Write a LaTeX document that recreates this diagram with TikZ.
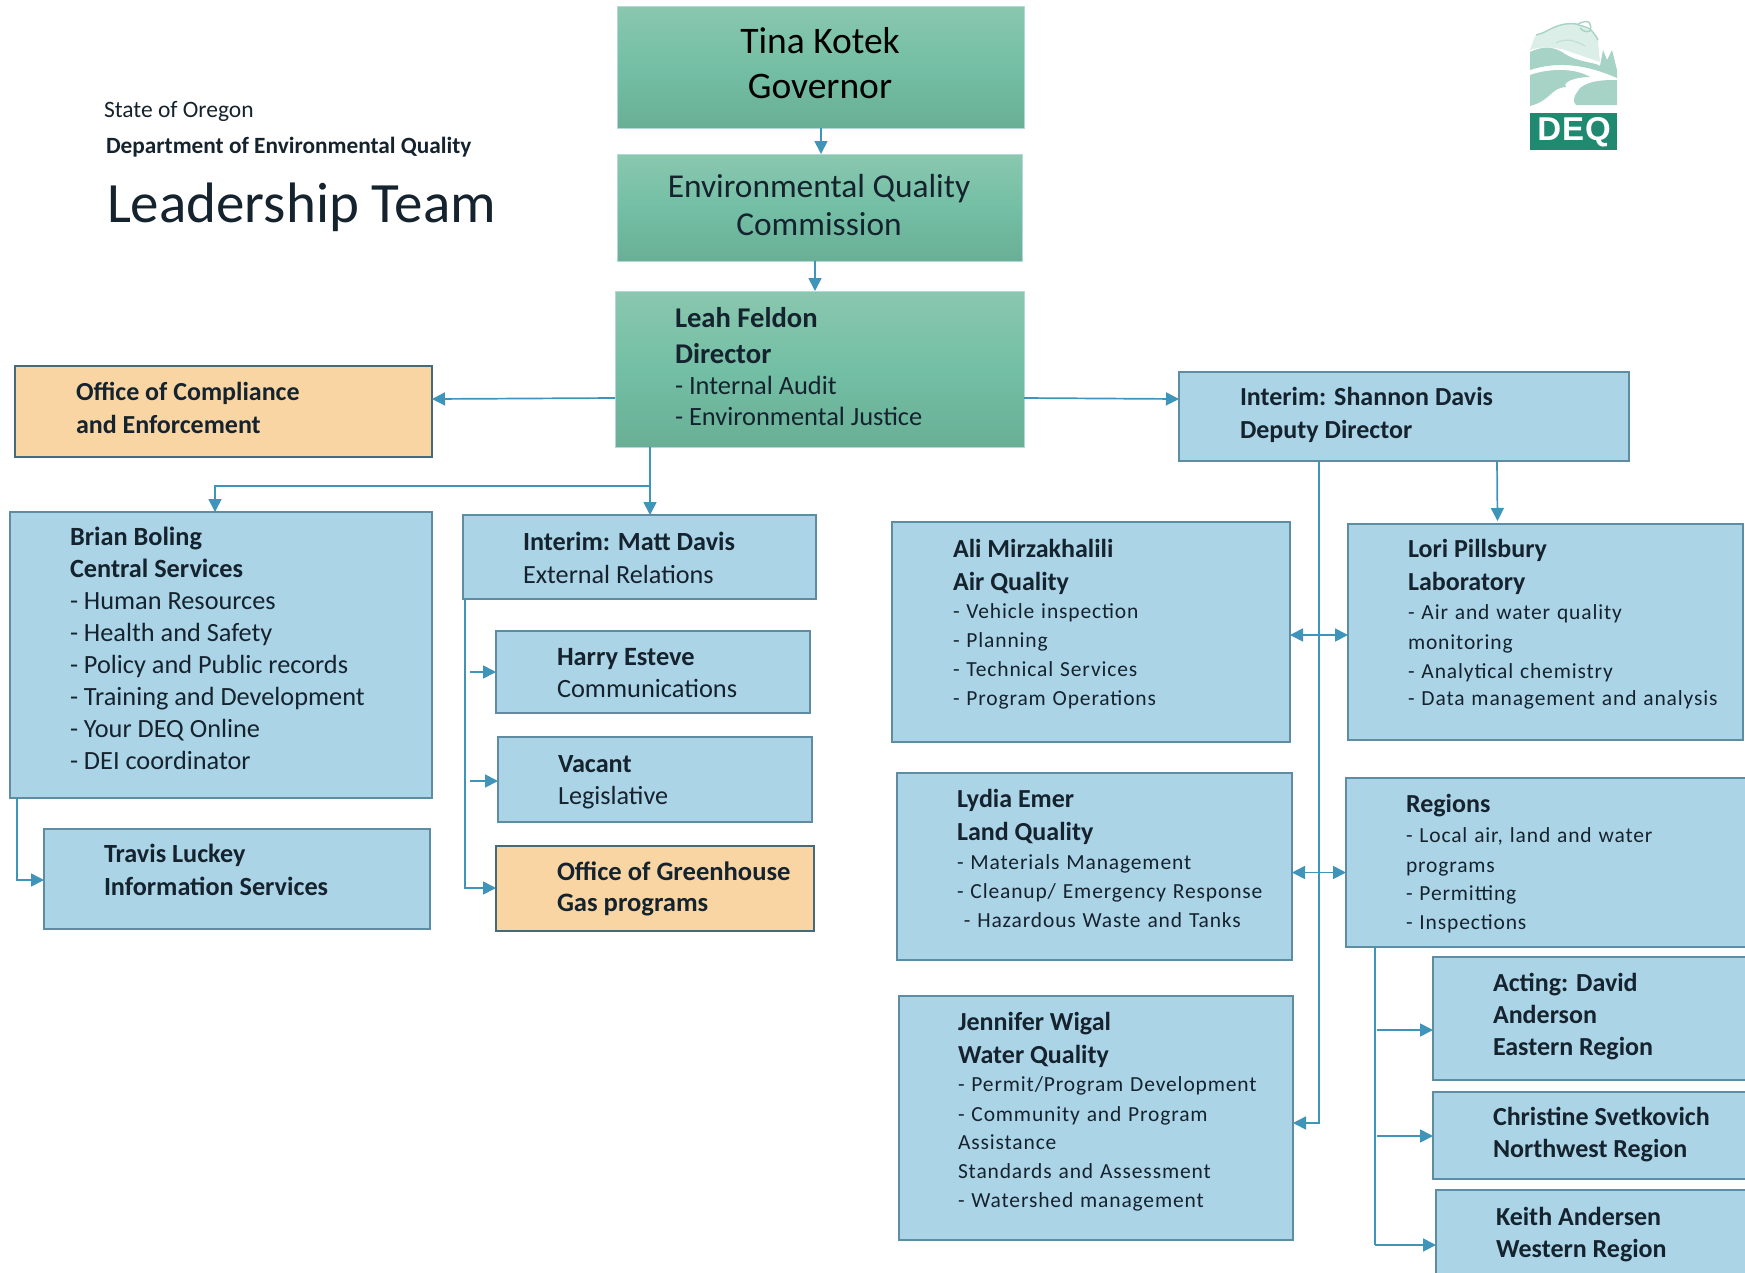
\documentclass[tikz,border=0pt]{standalone}
\usepackage{fontspec}
\setmainfont{Carlito}
\newfontfamily\widef[LetterSpace=4.0,WordSpace=1.2]{Carlito}
\newfontfamily\logof[LetterSpace=3.0]{Liberation Sans}
\usetikzlibrary{arrows.meta,calc}
\definecolor{boxblue}{HTML}{ABD4E7}
\definecolor{boxline}{HTML}{5E8DA3}
\definecolor{wire}{HTML}{3F94B9}
\definecolor{orangefill}{HTML}{F8D5A3}
\definecolor{ink}{HTML}{15232E}
\definecolor{logoteal}{HTML}{A6D3C6}
\definecolor{logopale}{HTML}{DCEEE8}
\definecolor{logogreen}{HTML}{1F8A70}
\definecolor{green1}{HTML}{8AC7AF}
\definecolor{green2}{HTML}{73BFA5}
\definecolor{green3}{HTML}{69AF96}
\tikzset{
  bluebox/.style={draw=boxline,line width=1.2pt,fill=boxblue,inner sep=0pt,outer sep=0pt},
  orangebox/.style={draw=boxline!75!black,line width=1.2pt,fill=orangefill,inner sep=0pt,outer sep=0pt},
  greenbox/.style={draw=white!70!teal,line width=.6pt,top color=green1,bottom color=green3,middle color=green2,inner sep=0pt,outer sep=0pt},
  wirel/.style={draw=wire,line width=1.7pt,-{Triangle[length=13pt,width=13pt]}},
  wiren/.style={draw=wire,line width=1.7pt},
  wireb/.style={draw=wire,line width=1.7pt,{Triangle[length=13pt,width=13pt]}-{Triangle[length=13pt,width=13pt]}},
  txt/.style={anchor=north west,inner sep=0pt,outer sep=0pt,align=left,text=ink},
  ctr/.style={anchor=center,inner sep=0pt,outer sep=0pt,align=center}
}
% box: style, name, x1, y1, x2, y2
\newcommand{\bx}[6]{\node[#1,anchor=north west,minimum width=#5pt-#3pt,minimum height=#6pt-#4pt] (#2) at (#3,#4) {};}
% text block: name, x, first baseline, size, skip, content
\newcommand{\tb}[6]{\node[txt,font=\fontsize{#4}{#5}\selectfont] (#1) at (#2,#3-#4+0.3) {\rule{0pt}{#4pt}#6};}
\newcommand{\tw}[6]{\node[txt,font=\fontsize{#4}{#5}\widef] (#1) at (#2,#3-#4) {\rule{0pt}{#4pt}#6};}
\newcommand{\B}[1]{{\bfseries #1}}
\begin{document}
\begin{tikzpicture}[x=1pt,y=-1pt]
\useasboundingbox (0,0) rectangle (1745,1272);
\clip (0,0) rectangle (1745,1272);
\fill[white] (0,0) rectangle (1745,1272);
% boxes
\bx{greenbox}{gov}{617}{6}{1024}{128}
\bx{greenbox}{eqc}{617}{154}{1022}{261}
\bx{greenbox}{dir}{615}{291}{1024}{447}
\bx{orangebox}{oce}{15}{366}{432}{457}
\bx{bluebox}{dep}{1179}{372}{1629}{461}
\bx{bluebox}{cs}{10}{512}{432}{798}
\bx{bluebox}{er}{463}{515}{816}{599}
\bx{bluebox}{comm}{496}{631}{810}{713}
\bx{bluebox}{leg}{498}{737}{812}{822}
\bx{orangebox}{ghg}{496}{846}{814}{931}
\bx{bluebox}{is}{44}{829}{430}{929}
\bx{bluebox}{air}{892}{522}{1290}{742}
\bx{bluebox}{land}{897}{773}{1292}{960}
\bx{bluebox}{water}{899}{996}{1293}{1240}
\bx{bluebox}{lab}{1348}{524}{1743}{740}
\bx{bluebox}{reg}{1346}{778}{1760}{947}
\bx{bluebox}{east}{1433}{957}{1760}{1080}
\bx{bluebox}{nw}{1433}{1092}{1760}{1179}
\bx{bluebox}{west}{1436}{1190}{1760}{1300}
% heading
\tb{h1}{104}{117}{23.5}{26}{State of Oregon}
\tb{h2}{106}{153}{23.3}{26}{\bfseries Department of Environmental Quality}
\node[txt,font=\fontsize{57}{62}\selectfont] (h3) at (107,183) {Leadership Team};
% green text
\node[ctr,font=\fontsize{37.5}{45.5}\selectfont,text=black] (govt) at (820,63) {Tina Kotek\\Governor};
\node[ctr,font=\fontsize{33.4}{38.5}\selectfont,text=ink] (eqct) at (819,205) {Environmental Quality\\Commission};
\tb{dirt}{675}{327}{28.6}{36}{\B{Leah Feldon}\\\B{Director}}
\tb{dirs}{675}{394.5}{26.4}{30.5}{- Internal Audit\\- Environmental Justice}
% blue text
\tb{ocet}{76}{400}{26}{33}{\B{Office of Compliance}\\\B{and Enforcement}}
\tb{dept}{1240}{405}{26}{33}{\B{Interim: Shannon Davis}\\\B{Deputy Director}}
\tb{cst}{70}{545}{26.3}{32}{\B{Brian Boling}\\\B{Central Services}\\- Human Resources\\- Health and Safety\\- Policy and Public records\\- Training and Development\\- Your DEQ Online\\- DEI coordinator}
\tb{ert}{523}{550}{26.2}{33}{\B{Interim: Matt Davis}\\External Relations}
\tb{commt}{557}{665}{26.4}{32}{\B{Harry Esteve}\\Communications}
\tb{legt}{558}{772}{26.2}{32}{\B{Vacant}\\Legislative}
\tb{ghgt}{557}{880}{26.6}{31.5}{\B{Office of Greenhouse}\\\B{Gas programs}}
\tb{ist}{104}{862}{26.2}{33}{\B{Travis Luckey}\\\B{Information Services}}
\tb{airt}{953}{557}{26}{33}{\B{Ali Mirzakhalili}\\\B{Air Quality}}
\tw{airs}{953}{618}{21.5}{29}{- Vehicle inspection\\- Planning\\- Technical Services\\- Program Operations}
\tb{landt}{957}{807}{26}{33}{\B{Lydia Emer}\\\B{Land Quality}}
\tw{lands}{957}{869}{21.5}{29}{- Materials Management\\- Cleanup/ Emergency Response\\\ - Hazardous Waste and Tanks}
\tb{watert}{958}{1030}{26}{33}{\B{Jennifer Wigal}\\\B{Water Quality}}
\tw{waters}{958}{1091}{21.5}{29}{- Permit/Program Development\\[1pt]- Community and Program\\[-1pt]Assistance\\Standards and Assessment\\- Watershed management}
\tb{labt}{1408}{557}{26}{33}{\B{Lori Pillsbury}\\\B{Laboratory}}
\tw{labs}{1408}{619}{21.5}{30}{- Air and water quality\\monitoring\\[-1pt]- Analytical chemistry\\[-3pt]- Data management and analysis}
\tb{regt}{1406}{812}{26}{33}{\B{Regions}}
\tw{regs}{1406}{842}{21.5}{30}{- Local air, land and water\\programs\\[-2pt]- Permitting\\[-1pt]- Inspections}
\tb{eastt}{1493}{991}{26}{32}{\B{Acting: David}\\\B{Anderson}\\\B{Eastern Region}}
\tb{nwt}{1493}{1125}{26}{32.3}{\B{Christine Svetkovich}\\\B{Northwest Region}}
\tb{westt}{1496}{1225}{26}{32.2}{\B{Keith Andersen}\\\B{Western Region}}
% connectors
\draw[wirel] ([xshift=.5pt]gov.south) -- ([xshift=.5pt]gov.south |- eqc.north);
\draw[wirel] ([xshift=-4.5pt]eqc.south) -- ([xshift=-4.5pt]eqc.south |- dir.north);
\draw[wirel] ([yshift=-29pt]dir.west) -- ([yshift=12.5pt]oce.east);
\draw[wirel] ([yshift=-29pt]dir.east) -- ([yshift=17.5pt]dep.west);
\draw[wirel] ([xshift=10.5pt]er.north |- dir.south) -- ([xshift=10.5pt]er.north);
\coordinate (csj) at (650,486);
\draw[wirel] (csj) -- ($(cs.north)+(-6,-26)$) -- ([xshift=-6pt]cs.north);
\draw[wirel] ([xshift=93pt]dep.south) -- ([xshift=-48pt,yshift=3pt]lab.north);
\coordinate (wj) at (1319,1123);
\draw[wirel] (dep.south -| wj) -- (wj) -- (wj -| water.east);
\draw[wireb] ([yshift=-3pt]air.east) -- ([yshift=-3pt]air.east -| lab.west);
\draw[wireb] ([yshift=-6pt]land.east) -- ([yshift=-6pt]land.east -| reg.west);
\coordinate (rt) at (1375,947);
\coordinate (rb) at (1375,1245);
\draw[wiren] (rt) -- (rb);
\coordinate (re) at (1377,1030);
\coordinate (rn) at (1377,1136);
\draw[wirel] (re) -- (re -| east.west);
\draw[wirel] (rn) -- (rn -| nw.west);
\draw[wirel] (rb) -- (rb -| west.west);
\coordinate (mt) at (465,599);
\coordinate (mb) at (465,888);
\draw[wirel] (mt) -- (mb) -- (mb -| ghg.west);
\coordinate (mc) at (470,672);
\coordinate (mv) at (470,781);
\draw[wirel] (mc) -- (mc -| comm.west);
\draw[wirel] (mv) -- (mv -| leg.west);
\coordinate (bt) at (17,798);
\coordinate (bb) at (17,880);
\draw[wirel] (bt) -- (bb) -- (bb -| is.west);
% logo
\fill[logopale] (1535,36) .. controls (1552,32) and (1556,22) .. (1576,23) .. controls (1590,30) and (1600,36) .. (1598,42) -- (1600,62) -- (1565,50) .. controls (1550,46) and (1540,47) .. (1530,50) -- cycle;
\fill[logogreen] (1530,113) rectangle (1617,150);
\node[ctr,font=\fontsize{33}{33}\logof\bfseries,text=white] (deq) at (1574,132) {DEQ};
\fill[logoteal] (1530,52) .. controls (1545,45) and (1555,47) .. (1565,54) .. controls (1580,63) and (1595,62) .. (1600,66) -- (1603,50) -- (1607,60) -- (1612,50) -- (1617,70) -- (1617,78) .. controls (1590,66) and (1560,60) .. (1530,70) -- cycle;
\fill[logoteal] (1530,75) .. controls (1550,68) and (1575,68) .. (1590,77) .. controls (1575,77) and (1562,82) .. (1566,87) .. controls (1550,88) and (1552,100) .. (1530,106) -- cycle;
\fill[logoteal] (1576,105) .. controls (1570,98) and (1578,92) .. (1580,88) .. controls (1590,80) and (1605,80) .. (1617,80) -- (1617,105) -- cycle;
\draw[logoteal,line width=1.4pt] (1536,35) .. controls (1550,32) and (1555,22) .. (1576,24) .. controls (1586,28) and (1590,25) .. (1598,40);
\draw[logoteal,line width=1.4pt] (1578,24) .. controls (1590,18) and (1592,24) .. (1590,31) .. controls (1585,33) and (1582,30) .. (1580,28);
\draw[logoteal!70!white,line width=1.2pt] (1556,43) .. controls (1565,38) and (1575,40) .. (1585,46);
\end{tikzpicture}
\end{document}
